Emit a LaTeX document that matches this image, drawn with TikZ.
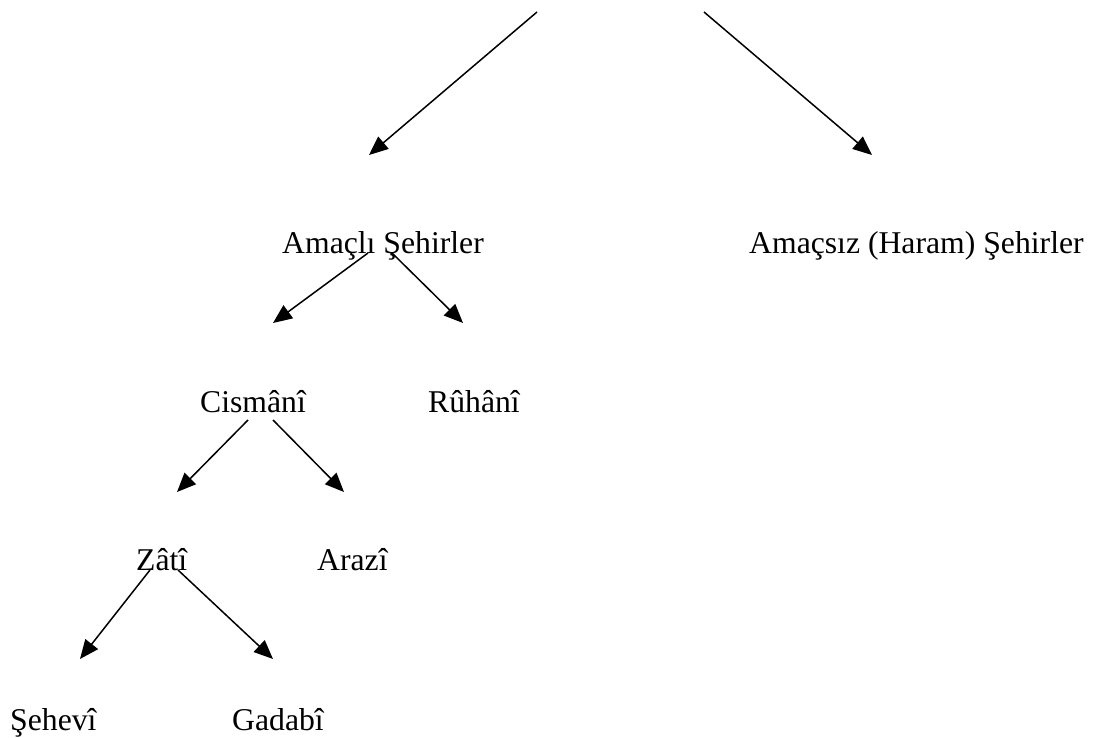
\documentclass[tikz,border=0pt]{standalone}
\usepackage{fontspec}
\setmainfont{Liberation Serif}
\usetikzlibrary{arrows.meta}
\begin{document}
\begin{tikzpicture}[x=1pt,y=-1pt,
  lbl/.style={anchor=base west,inner sep=0pt,font=\fontsize{31.7}{38}\selectfont},
  conn/.style={line width=1.5pt,-{Triangle[length=19pt,width=16pt]}}]
\useasboundingbox (0,0) rectangle (1097,738);
% labels
\node[lbl] (amacli) at (282,253) {Amaçlı Şehirler};
\node[lbl] (amacsiz) at (749,253) {Amaçsız (Haram) Şehirler};
\node[lbl] (cismani) at (200,412) {Cismânî};
\node[lbl] (ruhani) at (428,412) {Rûhânî};
\node[lbl] (zati) at (136,570) {Zâtî};
\node[lbl] (arazi) at (317,570) {Arazî};
\node[lbl] (sehevi) at (10,730) {Şehevî};
\node[lbl] (gadabi) at (232,730) {Gadabî};
% connector end points
\coordinate (t1) at (537,12);
\coordinate (t2) at (704,12);
\coordinate (h1) at (369,155);
\coordinate (h2) at (872,155);
\coordinate (s3) at (368,253);
\coordinate (s4) at (392,253);
\coordinate (h3) at (273,323);
\coordinate (h4) at (463,323);
\coordinate (s5) at (248,420);
\coordinate (s6) at (273,420);
\coordinate (h5) at (177,492);
\coordinate (h6) at (344,492);
\coordinate (s7) at (150,570);
\coordinate (s8) at (178,570);
\coordinate (h7) at (80,659);
\coordinate (h8) at (273,659);
% connectors
\draw[conn] (t1) -- (h1);
\draw[conn] (t2) -- (h2);
\draw[conn] (s3) -- (h3);
\draw[conn] (s4) -- (h4);
\draw[conn] (s5) -- (h5);
\draw[conn] (s6) -- (h6);
\draw[conn] (s7) -- (h7);
\draw[conn] (s8) -- (h8);
\end{tikzpicture}
\end{document}
